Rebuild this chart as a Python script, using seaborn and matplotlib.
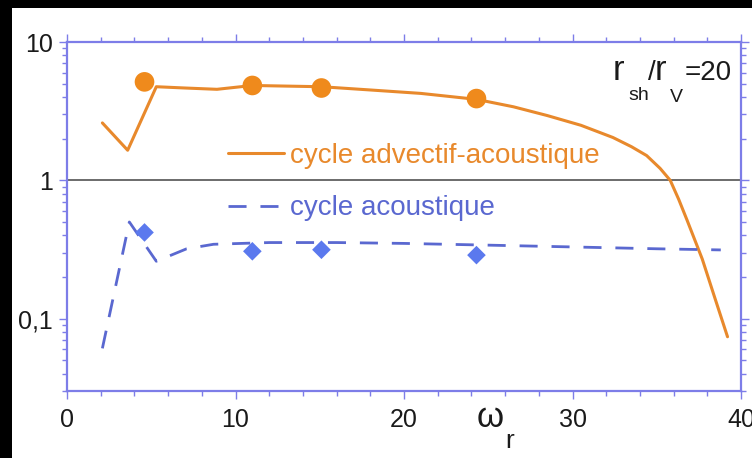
import matplotlib
matplotlib.use("Agg")
import matplotlib.pyplot as plt
from matplotlib.patches import Rectangle
from matplotlib.ticker import FixedLocator, MultipleLocator, LogLocator, NullFormatter
import seaborn as sns

# growth rate of the advective-acoustic cycle vs omega_r
omega_adv = [2.1, 3.6, 5.3, 7.0, 8.9, 11.0, 13.0, 15.1, 18.0, 21.0, 24.3, 26.5,
             28.5, 30.5, 32.4, 33.5, 34.4, 35.2, 35.8, 36.3, 36.8, 37.7, 38.5, 39.2]
gain_adv = [2.6, 1.65, 4.75, 4.65, 4.55, 4.85, 4.8, 4.75, 4.5, 4.25, 3.85, 3.4,
            2.94, 2.5, 2.04, 1.75, 1.51, 1.22, 1.0, 0.73, 0.515, 0.27, 0.135, 0.074]

# growth rate of the purely acoustic cycle
omega_ac = [2.1, 3.7, 5.3, 7.1, 8.7, 12.0, 16.0, 20.0, 25.0, 30.0, 35.0, 38.8]
gain_ac = [0.061, 0.5, 0.26, 0.32, 0.345, 0.355, 0.355, 0.35, 0.34, 0.33, 0.32, 0.314]

# simulation points
omega_sim = [4.6, 11.0, 15.1, 24.3]
gain_sim_adv = [5.15, 4.85, 4.65, 3.9]
gain_sim_ac = [0.42, 0.307, 0.315, 0.288]

x_ticks = [0, 10, 20, 30, 40]
y_ticks = [0.1, 1, 10]
y_ticklabels = ["0,1", "1", "10"]

ORANGE = "#ef8a1c"
ORANGE_LINE = "#e8892c"
BLUE = "#5b79ee"
BLUE_LINE = "#5a68d0"
AXIS = "#7d7de8"

sns.set_style("ticks")
plt.rcParams["font.family"] = ["Liberation Sans", "DejaVu Sans"]

W, H = 752, 458
fig = plt.figure(figsize=(W / 100, H / 100), dpi=100, facecolor="black")
fig.patches.append(Rectangle((12 / W, 0), (W - 12) / W, (H - 8) / H,
                             transform=fig.transFigure, facecolor="white",
                             edgecolor="none", zorder=-5))


def px(x, y):
    return x / W, 1 - y / H


ax = fig.add_axes([67 / W, (H - 391) / H, 674 / W, 349 / H])
ax.set_facecolor("white")

ax.axhline(1, color="#444444", lw=1.1, zorder=1)

sns.lineplot(x=omega_adv, y=gain_adv, ax=ax, color=ORANGE_LINE, lw=2.2,
             sort=False, estimator=None, label="cycle advectif-acoustique", zorder=3)
sns.lineplot(x=omega_ac, y=gain_ac, ax=ax, color=BLUE_LINE, lw=2.0,
             linestyle=(0, (6.5, 5.0)), sort=False, estimator=None,
             label="cycle acoustique", zorder=3)
sns.scatterplot(x=omega_sim, y=gain_sim_adv, ax=ax, color=ORANGE, marker="o",
                s=200, edgecolor="none", zorder=4, legend=False)
sns.scatterplot(x=omega_sim, y=gain_sim_ac, ax=ax, color=BLUE, marker="D",
                s=90, edgecolor="none", zorder=4, legend=False)

ax.set_yscale("log")
ax.set_xlim(0, 40)
ax.set_ylim(0.03, 10)
ax.xaxis.set_major_locator(FixedLocator(x_ticks))
ax.xaxis.set_minor_locator(MultipleLocator(2))
ax.yaxis.set_major_locator(FixedLocator(y_ticks))
ax.set_yticklabels(y_ticklabels)
ax.yaxis.set_minor_locator(LogLocator(base=10, subs=range(2, 10)))
ax.yaxis.set_minor_formatter(NullFormatter())
ax.set_xlabel("")
ax.set_ylabel("")

for side in ["left", "right", "top", "bottom"]:
    ax.spines[side].set_visible(True)
    ax.spines[side].set_color(AXIS)
    ax.spines[side].set_linewidth(1.6)

ax.tick_params(which="both", direction="out", top=True, right=True,
               color=AXIS, width=1.0, labelsize=18, labelcolor="#1a1a1a")
ax.tick_params(which="major", length=6)
ax.tick_params(which="minor", length=3.5)
ax.tick_params(axis="x", which="major", pad=6)
ax.tick_params(axis="y", which="major", pad=4)

leg = ax.legend(loc="upper left", bbox_to_anchor=((228 - 67) / 674, (391 - 143) / 349),
                frameon=False, fontsize=20, handlelength=2.0, handletextpad=0.25,
                labelspacing=0.95, borderpad=0, borderaxespad=0,
                labelcolor="linecolor")

# parameter annotation r_sh / r_V = 20
fig.text(*px(613, 80), "r", fontsize=25, color="#1a1a1a", va="baseline")
fig.text(*px(628, 100), "sh", fontsize=14, color="#1a1a1a", va="baseline")
fig.text(*px(648, 80), "/", fontsize=20, color="#1a1a1a", va="baseline")
fig.text(*px(655, 80), "r", fontsize=25, color="#1a1a1a", va="baseline")
fig.text(*px(670, 102), "V", fontsize=14, color="#1a1a1a", va="baseline")
fig.text(*px(685, 80), "=20", fontsize=20, color="#1a1a1a", va="baseline")

# x-axis label omega_r
fig.text(*px(477, 427), "ω", fontsize=25, color="#1a1a1a", va="baseline")
fig.text(*px(505, 448), "r", fontsize=19, color="#1a1a1a", va="baseline")

fig.savefig("out.png", dpi=100, facecolor=fig.get_facecolor())
